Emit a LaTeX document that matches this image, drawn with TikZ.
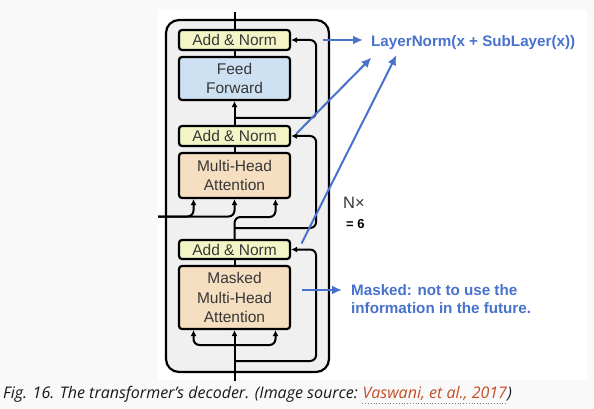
\documentclass[tikz,border=0pt]{standalone}
\usepackage{fontspec}
\setmainfont{Liberation Sans}
\newfontfamily\capfont{Open Sans}
\usepackage{xcolor}
\usepackage{tikz}
\usetikzlibrary{calc}
\usetikzlibrary{arrows.meta}
\usetikzlibrary{positioning}
\tikzset{>=latex}
\definecolor{addnorm}{RGB}{243,245,198}
\definecolor{ffblue}{RGB}{205,225,243}
\definecolor{attn}{RGB}{245,223,192}
\definecolor{blockgray}{RGB}{240,240,240}
\definecolor{notes}{RGB}{72,114,204}
\definecolor{boxtext}{RGB}{55,55,55}
\definecolor{srclink}{RGB}{196,78,40}
\definecolor{pagebg}{RGB}{249,249,249}
\tikzstyle{block} = [draw=black, line width=2.2pt, rounded corners=13pt, fill=blockgray, minimum width=163pt, minimum height=352pt]
\tikzstyle{sub} = [draw=black, line width=2.2pt, rounded corners=3pt, minimum width=111pt, text=boxtext, align=center, inner sep=0, font=\fontsize{15.5}{19.7}\selectfont]
\tikzstyle{wire} = [line width=2pt]
\tikzstyle{flow} = [line width=2pt, rounded corners=6pt, -{Latex[length=6pt,width=6pt]}]
\tikzstyle{pointer} = [draw=notes, line width=2pt, -{Latex[length=10pt,width=9pt]}]
\tikzstyle{note} = [text=notes, inner sep=0, font=\bfseries\fontsize{15.2}{18.3}\selectfont]
\tikzstyle{capt} = [inner sep=0, text=black!90, font=\capfont\itshape\fontsize{16}{19}\selectfont]

\begin{document}
\begin{tikzpicture}[x=1pt, y=-1pt]
\useasboundingbox (0,0) rectangle (594,409);
\fill [pagebg] (0,0) rectangle (594,409);
\fill [white] (158,10) rectangle (587,380);
% decoder block
\node [block] (blk) at (247.5,196) {};
\node [sub, fill=addnorm, minimum height=20pt] (an1) at (234.5,40) {Add \& Norm};
\node [sub, fill=ffblue, minimum height=43pt] (ff) at (234.5,78.5) {Feed\\Forward};
\node [sub, fill=addnorm, minimum height=20pt] (an2) at (234.5,136) {Add \& Norm};
\node [sub, fill=attn, minimum height=45pt] (mha) at (234.5,175.5) {Multi-Head\\Attention};
\node [sub, fill=addnorm, minimum height=19pt] (an3) at (234.5,249.5) {Add \& Norm};
\node [sub, fill=attn, minimum height=63pt] (mmha) at (234.5,297.5) {Masked\\Multi-Head\\Attention};
\coordinate (out) at (234.5,12);
\coordinate (in) at (234.5,381);
\coordinate (enc) at (158,216.5);
\coordinate (q) at (275.5,217);
\coordinate (j1) at (234.5,118);
\coordinate (j2) at (234.5,228);
\coordinate (j3) at (234.5,361);
\coordinate (j4) at (234.5,345);
% wires
\draw [wire] (an1.north) -- (out);
\draw [wire] (ff.north) -- (an1.south);
\draw [flow] (an2.north) -- (ff.south);
\draw [flow] (j1) -| ([xshift=25pt]an1.east) -- (an1.east);
\draw [wire] (mha.north) -- (an2.south);
\draw [flow] (j2) -| ([xshift=25pt]an2.east) -- (an2.east);
\draw [flow] (an3.north) |- (q) -- (q |- mha.south);
\draw [flow] (enc) -| ([xshift=-41pt]mha.south);
\draw [flow] (enc) -| (mha.south);
\draw [wire] (mmha.north) -- (an3.south);
\draw [flow] (j3) -| ([xshift=25pt]an3.east) -- (an3.east);
\draw [flow] (in) -- (mmha.south);
\draw [flow] (j4) -| ([xshift=-41pt]mmha.south);
\draw [flow] (j4) -| ([xshift=41pt]mmha.south);
% notes
\node [note, anchor=west, inner xsep=8pt] (ln) at (363,43) {LayerNorm(x + SubLayer(x))};
\node [note, anchor=west, align=left, inner xsep=9pt] (mk) at (342,299) {Masked: not to use the\\information in the future.};
\node [anchor=west, inner sep=0, text=boxtext, font=\fontsize{16.5}{19}\selectfont] (nx) at (343,203) {N×};
\node [anchor=west, inner sep=0, font=\bfseries\fontsize{13}{15}\selectfont] (six) at (346,224.5) {= 6};
\coordinate (b1) at (322.5,40);
\coordinate (b2) at (296.5,133.5);
\coordinate (t2) at (371.5,57.5);
\coordinate (b3) at (301.5,243.5);
\coordinate (t3) at (396.5,55);
\coordinate (b4) at (301.5,290);
\draw [pointer] (b1) -- (b1 -| ln.west);
\draw [pointer] (b2) -- (t2);
\draw [pointer] (b3) -- (t3);
\draw [pointer] (b4) -- (b4 -| mk.west);
% caption
\node [capt, anchor=base west] (cap) at (3,398) {Fig. 16. The transformer’s decoder. (Image source:};
\node [capt, text=srclink, base right=4.3pt of cap] (src) {Vaswani, et al., 2017};
\node [capt, base right=0pt of src] (cap2) {)};
\draw [gray, dotted, line width=0.8pt] ([yshift=-5.5pt]src.base west) -- ([yshift=-5.5pt]src.base east);
\end{tikzpicture}
\end{document}
